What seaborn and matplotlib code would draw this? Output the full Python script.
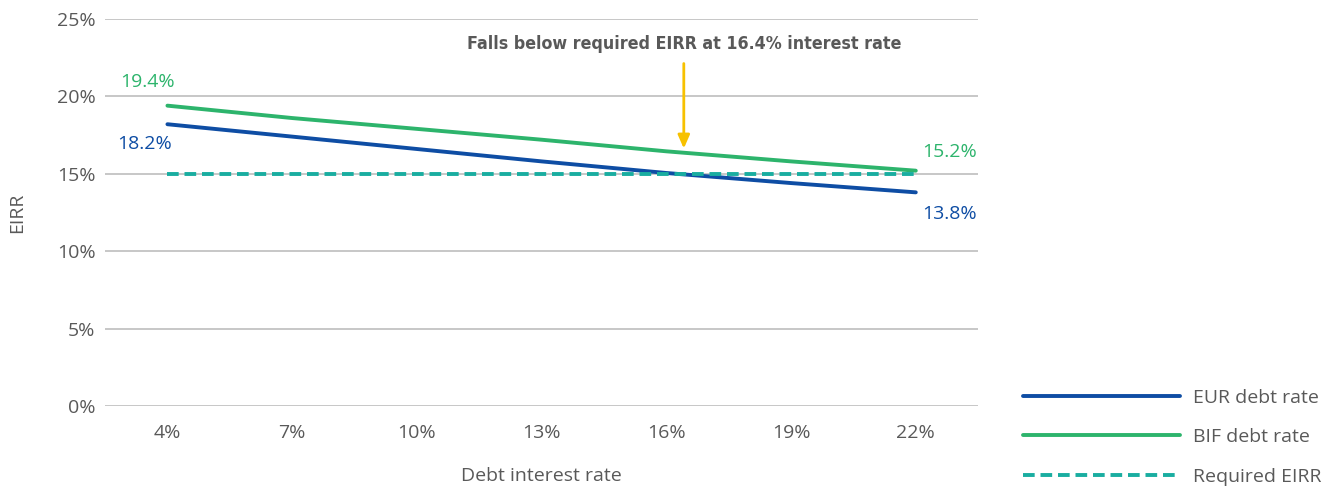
import pandas as pd
import matplotlib.pyplot as plt
import seaborn as sns

# ---------------- data ----------------
debt_rates = ["4%", "7%", "10%", "13%", "16%", "19%", "22%"]
eur_eirr = [18.2, 17.4, 16.6, 15.8, 15.05, 14.4, 13.8]
bif_eirr = [19.4, 18.6, 17.9, 17.2, 16.45, 15.8, 15.2]
required_eirr = [15.0, 15.0, 15.0, 15.0, 15.0, 15.0, 15.0]
series_names = ["EUR debt rate", "BIF debt rate", "Required EIRR"]
y_ticks = [0, 5, 10, 15, 20, 25]

# ---------------- style ----------------
BLUE = "#0E4DA4"
GREEN = "#2DB46C"
TEAL = "#19ADA0"
YELLOW = "#F7C100"
GREY = "#595959"
GRID = "#BDBDBD"
FS = 14

sns.set_style("white")
plt.rcParams["font.family"] = ["Open Sans", "DejaVu Sans"]

df = pd.DataFrame({
    "rate": debt_rates * 3,
    "eirr": eur_eirr + bif_eirr + required_eirr,
    "series": [series_names[0]] * 7 + [series_names[1]] * 7 + [series_names[2]] * 7,
})

fig = plt.figure(figsize=(13.35, 4.86), dpi=100)
ax = fig.add_axes([0.0787, 0.1646, 0.654, 0.7964])

sns.lineplot(data=df, x="rate", y="eirr", hue="series", style="series",
             palette=[BLUE, GREEN, TEAL],
             dashes={series_names[0]: "", series_names[1]: "", series_names[2]: (3.0, 1.5)},
             linewidth=2.8, sort=False, ax=ax, legend=False)

# axes
ax.set_xlim(-0.5, len(debt_rates) - 0.5)
ax.set_ylim(0, 25)
ax.set_yticks(y_ticks)
ax.set_yticklabels([f"{v}%" for v in y_ticks])
ax.yaxis.grid(True, color=GRID, linewidth=1.2)
ax.set_axisbelow(True)
for s in ax.spines.values():
    s.set_visible(False)
ax.tick_params(axis="both", length=0, labelsize=FS, labelcolor=GREY)
ax.tick_params(axis="y", pad=7)
ax.tick_params(axis="x", pad=13)
ax.set_xlabel("Debt interest rate", fontsize=FS, color=GREY, labelpad=18)
ax.set_ylabel("EIRR", fontsize=FS, color=GREY, labelpad=22)

# end labels
ax.text(-0.16, 20.9, f"{bif_eirr[0]}%", color=GREEN, fontsize=FS, ha="center", va="center")
ax.text(-0.18, 16.9, f"{eur_eirr[0]}%", color=BLUE, fontsize=FS, ha="center", va="center")
ax.text(6.27, 16.4, f"{bif_eirr[-1]}%", color=GREEN, fontsize=FS, ha="center", va="center")
ax.text(6.27, 12.4, f"{eur_eirr[-1]}%", color=BLUE, fontsize=FS, ha="center", va="center")

# annotation
ax.annotate("", xy=(4.14, 16.45), xytext=(4.14, 22.3),
            arrowprops=dict(arrowstyle="-|>,head_width=0.35,head_length=0.8",
                            color=YELLOW, lw=2))
ax.text(4.14, 23.4, "Falls below required EIRR at 16.4% interest rate",
        ha="center", va="center", fontsize=12.8, color=GREY, fontweight="bold",
        family=["DejaVu Sans"], fontstretch="condensed")

# legend
handles = [plt.Line2D([], [], color=BLUE, lw=2.8),
           plt.Line2D([], [], color=GREEN, lw=2.8),
           plt.Line2D([], [], color=TEAL, lw=2.8, dashes=(3.0, 1.5))]
fig.legend(handles, series_names, loc="lower left", bbox_to_anchor=(0.753, -0.035),
           frameon=False, fontsize=FS, labelcolor=GREY, handlelength=8.1,
           handletextpad=0.65, labelspacing=1.1)

fig.savefig("out.png", dpi=100)
